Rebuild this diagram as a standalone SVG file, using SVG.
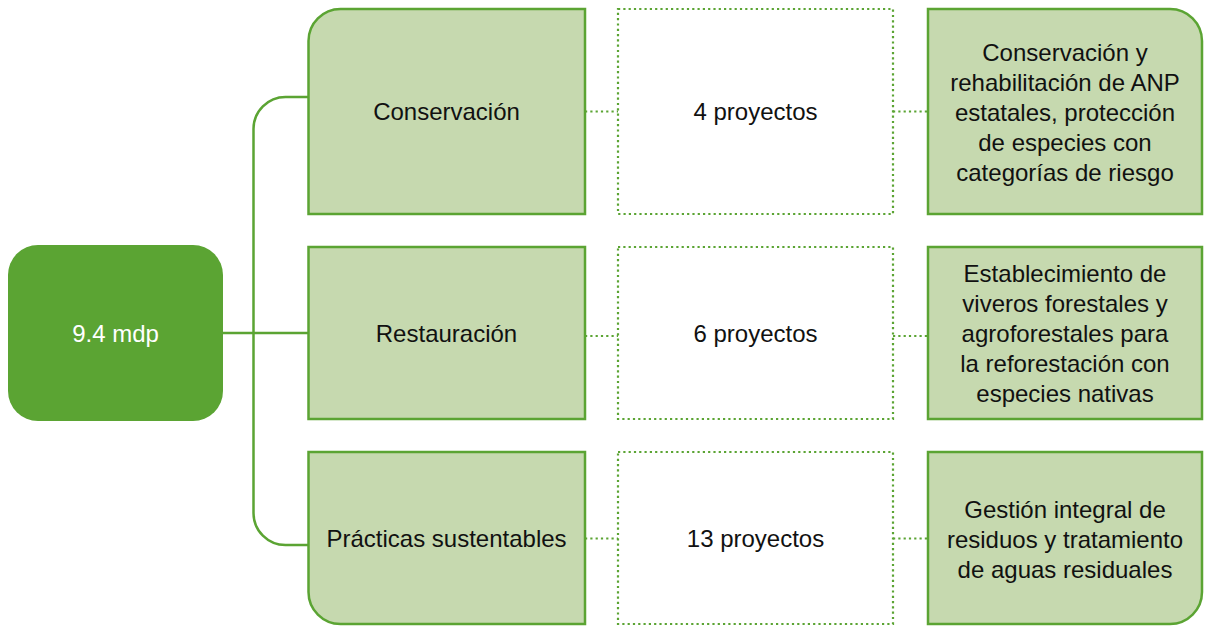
<svg xmlns="http://www.w3.org/2000/svg" width="1205" height="626" viewBox="0 0 1205 626">
<style>
.box{fill:#C6D9AF;stroke:#5BA433;stroke-width:2.5}
.dot{fill:#FFFFFF;stroke:#5BA433;stroke-width:2.2;stroke-dasharray:2.2 3.1}
.line{fill:none;stroke:#5BA433;stroke-width:2.5}
.dline{fill:none;stroke:#5BA433;stroke-width:2.2;stroke-dasharray:2.2 3.1}
text{font-family:"Liberation Sans",Arial,sans-serif;font-size:24px;fill:#111111;text-anchor:middle}
.w{fill:#FFFFFF}
</style>
<rect width="1205" height="626" fill="#FFFFFF"/>
<g id="connectors">
<path class="line" d="M223,333 H308.5"/>
<path class="line" d="M308.5,97 H285.5 A32,32 0 0 0 253.5,129 V513 A32,32 0 0 0 285.5,545 H308.5"/>
<path class="dline" d="M585,111.5 H618"/>
<path class="dline" d="M893,111.5 H928"/>
<path class="dline" d="M585,336 H618"/>
<path class="dline" d="M893,336 H928"/>
<path class="dline" d="M585,538.5 H618"/>
<path class="dline" d="M893,538.5 H928"/>
</g>
<g id="root">
<rect x="8" y="245" width="215" height="176" rx="30" fill="#5BA433"/>
<text class="w" x="115.5" y="341.5">9.4 mdp</text>
</g>
<g id="conservacion">
<path class="box" d="M308.5,214 V41 A32,32 0 0 1 340.5,9 H585 V214 Z"/>
<text x="446.5" y="120">Conservación</text>
</g>
<g id="restauracion">
<rect class="box" x="308.5" y="247" width="276.5" height="172"/>
<text x="446.5" y="341.5">Restauración</text>
</g>
<g id="practicas">
<path class="box" d="M308.5,452 H585 V624 H340.5 A32,32 0 0 1 308.5,592 Z"/>
<text x="446.5" y="547">Prácticas sustentables</text>
</g>
<g id="p4">
<rect class="dot" x="618" y="9" width="275" height="205"/>
<text x="755.5" y="120">4 proyectos</text>
</g>
<g id="p6">
<rect class="dot" x="618" y="247" width="275" height="172"/>
<text x="755.5" y="341.5">6 proyectos</text>
</g>
<g id="p13">
<rect class="dot" x="618" y="452" width="275" height="172"/>
<text x="755.5" y="547">13 proyectos</text>
</g>
<g id="desc1">
<path class="box" d="M928,9 H1170 A32,32 0 0 1 1202,41 V214 H928 Z"/>
<text x="1065" y="60.5">Conservación y</text>
<text x="1065" y="90.5">rehabilitación de ANP</text>
<text x="1065" y="120.5">estatales, protección</text>
<text x="1065" y="150.5">de especies con</text>
<text x="1065" y="180.5">categorías de riesgo</text>
</g>
<g id="desc2">
<rect class="box" x="928" y="247" width="274" height="172"/>
<text x="1065" y="281.5">Establecimiento de</text>
<text x="1065" y="311.5">viveros forestales y</text>
<text x="1065" y="341.5">agroforestales para</text>
<text x="1065" y="371.5">la reforestación con</text>
<text x="1065" y="401.5">especies nativas</text>
</g>
<g id="desc3">
<path class="box" d="M928,452 H1202 V592 A32,32 0 0 1 1170,624 H928 Z"/>
<text x="1065" y="517.5">Gestión integral de</text>
<text x="1065" y="547.5">residuos y tratamiento</text>
<text x="1065" y="577.5">de aguas residuales</text>
</g>
</svg>
